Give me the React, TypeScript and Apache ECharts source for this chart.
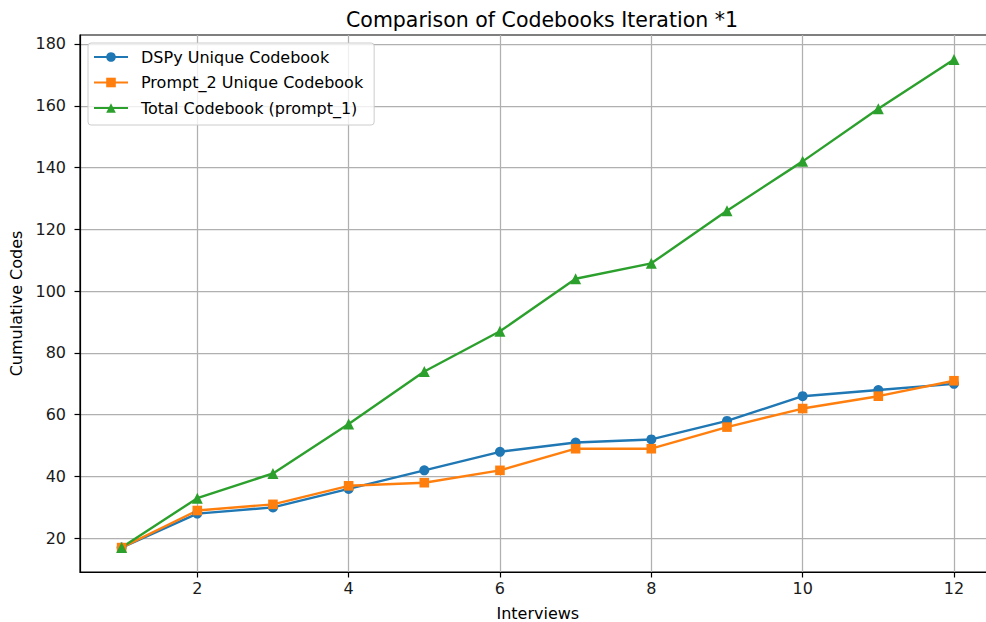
import React, { useEffect, useRef } from "react";
import * as echarts from "echarts";

const interviews = [1, 2, 3, 4, 5, 6, 7, 8, 9, 10, 11, 12];
const dspyUnique = [17, 28, 30, 36, 42, 48, 51, 52, 58, 66, 68, 70];
const prompt2Unique = [17, 29, 31, 37, 38, 42, 49, 49, 56, 62, 66, 71];
const totalPrompt1 = [17, 33, 41, 57, 74, 87, 104, 109, 126, 142, 159, 175];
const xTicks = [2, 4, 6, 8, 10, 12];
const yTicks = [20, 40, 60, 80, 100, 120, 140, 160, 180];

const FONT = "DejaVu Sans";
const FS = 16;

export default function App() {
  const ref = useRef<HTMLDivElement>(null);
  useEffect(() => {
    if (!ref.current) return;
    const chart = echarts.init(ref.current, undefined, { renderer: "svg" });
    const pairs = (ys: number[]) => interviews.map((x, i) => [x, ys[i]]);
    const mk = (name: string, ys: number[], color: string, symbol: string, size: number) => ({
      name,
      type: "line",
      data: pairs(ys),
      symbol,
      symbolSize: size,
      showSymbol: true,
      lineStyle: { color, width: 2.4 },
      itemStyle: { color },
      emphasis: { disabled: true },
    });
    chart.setOption({
      animation: false,
      backgroundColor: "#ffffff",
      textStyle: { fontFamily: FONT },
      title: {
        text: "Comparison of Codebooks Iteration *1",
        left: 537,
        textAlign: "center",
        top: 4,
        textStyle: { fontFamily: FONT, fontSize: 20.5, fontWeight: "normal", color: "#000" },
      },
      legend: {
        left: 88,
        top: 43,
        orient: "vertical",
        itemWidth: 34,
        itemHeight: 12,
        itemGap: 9.5,
        padding: [6, 11, 9, 5],
        backgroundColor: "rgba(255,255,255,0.8)",
        borderColor: "#cccccc",
        borderWidth: 1,
        borderRadius: 3,
        textStyle: { fontFamily: FONT, fontSize: FS, color: "#000", padding: [0, 0, 0, 8] },
        data: ["DSPy Unique Codebook", "Prompt_2 Unique Codebook", "Total Codebook (prompt_1)"],
      },
      grid: {
        left: 80,
        top: 35,
        width: 915.6,
        bottom: 50,
        outerBoundsMode: "none",
        containLabel: false,
        show: true,
        borderColor: "#000",
        borderWidth: 1.2,
        backgroundColor: "transparent",
      },
      xAxis: {
        type: "value",
        min: 0.45,
        max: 12.55,
        name: "Interviews",
        nameLocation: "middle",
        nameGap: 33,
        nameTextStyle: { fontFamily: FONT, fontSize: FS, color: "#000" },
        axisLine: { show: true, lineStyle: { color: "#000", width: 1.2 } },
        axisTick: { show: true, length: 5.5, lineStyle: { color: "#000", width: 1.2 }, customValues: xTicks },
        axisLabel: { fontFamily: FONT, fontSize: FS, color: "#1a1a1a", margin: 8, customValues: xTicks },
        splitLine: { show: true, lineStyle: { color: "#b0b0b0", width: 1.25 } },
      },
      yAxis: {
        type: "value",
        min: 9.1,
        max: 182.9,
        name: "Cumulative Codes",
        nameLocation: "middle",
        nameGap: 51.5,
        nameTextStyle: { fontFamily: FONT, fontSize: FS, color: "#000" },
        axisLine: { show: true, lineStyle: { color: "#000", width: 1.2 } },
        axisTick: { show: true, length: 5.5, lineStyle: { color: "#000", width: 1.2 }, customValues: yTicks },
        axisLabel: { fontFamily: FONT, fontSize: FS, color: "#1a1a1a", margin: 14, customValues: yTicks },
        splitLine: { show: true, lineStyle: { color: "#b0b0b0", width: 1.25 } },
      },
      series: [
        mk("DSPy Unique Codebook", dspyUnique, "#1f77b4", "circle", 10),
        mk("Prompt_2 Unique Codebook", prompt2Unique, "#ff7f0e", "rect", 9.6),
        mk("Total Codebook (prompt_1)", totalPrompt1, "#2ca02c", "triangle", 11),
      ],
    });
    return () => chart.dispose();
  }, []);
  return (
    <div
      ref={ref}
      style={{ position: "fixed", left: 0, top: 0, width: 986, height: 622, background: "#fff" }}
    />
  );
}
